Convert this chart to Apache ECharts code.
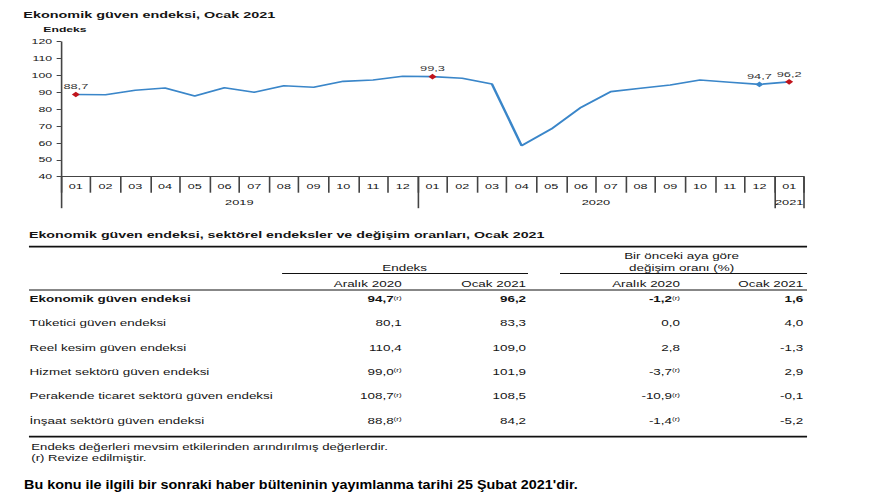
<!DOCTYPE html>
<html>
<head>
<meta charset="utf-8">
<script src="https://cdn.jsdelivr.net/npm/echarts@6/dist/echarts.min.js"></script>
<style>
  html, body { margin: 0; padding: 0; background: #ffffff; }
  #wrap { width: 880px; height: 495px; overflow: hidden; position: relative; }
  #chart { width: 550px; height: 495px; transform: scaleX(1.6); transform-origin: 0 0; }
</style>
</head>
<body>
<div id="wrap"><div id="chart"></div></div>
<script>
// ---------- DATA ----------
const chartTitle = 'Ekonomik güven endeksi, Ocak 2021';
const yAxisName = 'Endeks';
const months = ['01','02','03','04','05','06','07','08','09','10','11','12',
                '01','02','03','04','05','06','07','08','09','10','11','12',
                '01'];
const years = ['2019', '2020', '2021'];
const yearMonthCounts = [12, 12, 1];
const economicConfidence = [88.7, 88.6, 91.2, 92.6, 87.8, 92.7, 90.0, 93.9, 93.0, 96.5, 97.3, 99.5,
                            99.3, 98.3, 94.9, 58.4, 68.3, 81.1, 90.4, 92.4, 94.3, 97.3, 96.0, 94.7,
                            96.2];
const redMarkedIndices = [0, 12, 24];
const blueMarkedIndices = [23];
const yMin = 40, yMax = 120, yStep = 10;

const tableTitle = 'Ekonomik güven endeksi, sektörel endeksler ve değişim oranları, Ocak 2021';
const groupHeaders = ['Endeks', 'Bir önceki aya göre\ndeğişim oranı (%)'];
const columnHeaders = ['Aralık 2020', 'Ocak 2021', 'Aralık 2020', 'Ocak 2021'];
const rowNames = ['Ekonomik güven endeksi', 'Tüketici güven endeksi', 'Reel kesim güven endeksi',
                  'Hizmet sektörü güven endeksi', 'Perakende ticaret sektörü güven endeksi',
                  'İnşaat sektörü güven endeksi'];
const endeksAralik2020 = ['94,7', '80,1', '110,4', '99,0', '108,7', '88,8'];
const endeksOcak2021 = ['96,2', '83,3', '109,0', '101,9', '108,5', '84,2'];
const degisimAralik2020 = ['-1,2', '0,0', '2,8', '-3,7', '-10,9', '-1,4'];
const degisimOcak2021 = ['1,6', '4,0', '-1,3', '2,9', '-0,1', '-5,2'];
const revisedEndeksAralik = [true, false, false, true, true, true];
const revisedDegisimAralik = [true, false, false, true, true, true];
const footnotes = ['Endeks değerleri mevsim etkilerinden arındırılmış değerlerdir.', '(r) Revize edilmiştir.'];
const revisedMark = '(r)';
const bottomNote = "Bu konu ile ilgili bir sonraki haber bülteninin yayımlanma tarihi 25 Şubat 2021'dir.";

// ---------- STYLE ----------
const FONT = '"Liberation Sans", Arial, Helvetica, sans-serif';
const TXT = '#141414';
const AXIS = '#444444';
const LINE_BLUE = '#3a86c9';
const MARK_RED = '#c0141c';

const fmt = v => v.toFixed(1).replace('.', ',');

// year label centers and boundaries (in category index units)
const yearCenters = [], yearBounds = [];
let start = 0;
yearMonthCounts.forEach((c) => {
  yearBounds.push(start - 0.5);
  yearCenters.push(start + (c - 1) / 2);
  start += c;
});
yearBounds.push(start - 0.5);

const seriesData = economicConfidence.map((v, i) => {
  const isRed = redMarkedIndices.indexOf(i) >= 0;
  const isBlue = blueMarkedIndices.indexOf(i) >= 0;
  if (!isRed && !isBlue) return { value: v, symbol: 'none' };
  return {
    value: v,
    symbol: 'diamond',
    itemStyle: { color: isRed ? MARK_RED : LINE_BLUE },
    label: { show: true }
  };
});

// ---------- TABLE (graphic) ----------
const graphic = [];
function text(x, y, str, size, weight, align, extra) {
  const el = {
    type: 'text', x: x, y: y, silent: true,
    style: Object.assign({
      text: str, fill: TXT, fontFamily: FONT, fontSize: size, fontWeight: weight || 'normal',
      align: align || 'left', verticalAlign: 'middle'
    }, extra || {})
  };
  graphic.push(el);
  return el;
}
function hline(x1, x2, y, w) {
  graphic.push({ type: 'line', silent: true, shape: { x1: x1, y1: y, x2: x2, y2: y },
    style: { stroke: '#111', lineWidth: w } });
}
function valueText(x, y, str, revised, bold) {
  const size = 8.4;
  if (!revised) { text(x, y, str, size, bold ? 'bold' : 'normal', 'right'); return; }
  text(x, y, '{v|' + str + '}{s|' + revisedMark + '}', size, bold ? 'bold' : 'normal', 'right', {
    rich: {
      v: { fontFamily: FONT, fontSize: size, fontWeight: bold ? 'bold' : 'normal', fill: TXT, color: TXT },
      s: { fontFamily: FONT, fontSize: 5, fill: TXT, color: TXT, verticalAlign: 'top', padding: [0, 0, 3, 0] }
    }
  });
}

const TL = 18.1, TR = 504.4;
const colRight = [251, 328.8, 425, 502];
text(TL, 235, tableTitle, 8.9, 'bold', 'left');
hline(TL, TR, 246.7, 1.8);
text(252.9, 268.2, groupHeaders[0], 8.4, 'normal', 'center');
text(426, 262, groupHeaders[1], 8.4, 'normal', 'center', { lineHeight: 12.5 });
hline(176.3, 330, 273.4, 1);
hline(350, TR, 273.4, 1);
columnHeaders.forEach((h, i) => text(colRight[i], 284, h, 8.4, 'normal', 'right'));
hline(TL, TR, 290, 1.2);
rowNames.forEach((name, r) => {
  const y = 299.2 + r * 24.3;
  const bold = r === 0;
  text(TL + 0.4, y, name, 8.4, bold ? 'bold' : 'normal', 'left');
  valueText(colRight[0], y, endeksAralik2020[r], revisedEndeksAralik[r], bold);
  valueText(colRight[1], y, endeksOcak2021[r], false, bold);
  valueText(colRight[2], y, degisimAralik2020[r], revisedDegisimAralik[r], bold);
  valueText(colRight[3], y, degisimOcak2021[r], false, bold);
});
hline(TL, TR, 436.7, 1.8);
text(TL + 1.5, 446.8, footnotes[0], 8.2, 'normal', 'left');
text(TL + 1.5, 457.6, footnotes[1], 8.2, 'normal', 'left');
// bottom note is less stretched in the original than the rest of the page
graphic.push({
  type: 'text', x: 15, y: 485.3, scaleX: 1.18 / 1.6, silent: true,
  style: { text: bottomNote, fill: '#000', fontFamily: FONT, fontSize: 12.2, fontWeight: 'bold',
           align: 'left', verticalAlign: 'middle' }
});

// ---------- CHART ----------
const chart = echarts.init(document.getElementById('chart'), null, { renderer: 'svg', width: 550, height: 495 });
const option = {
  animation: false,
  textStyle: { fontFamily: FONT },
  title: {
    text: chartTitle, left: 14.6, top: 10.6, padding: 0,
    textStyle: { fontFamily: FONT, fontSize: 9, fontWeight: 'bold', color: TXT }
  },
  grid: { left: 38.1, right: 47.5, top: 41.7, bottom: 318.3, containLabel: false },
  xAxis: [
    {
      type: 'category', data: months, boundaryGap: true, position: 'bottom',
      axisLine: { show: true, onZero: false, lineStyle: { color: AXIS, width: 1 } },
      axisTick: { show: true, interval: 0, length: 16, lineStyle: { color: AXIS, width: 1 } },
      axisLabel: { interval: 0, fontSize: 7.9, color: TXT, margin: 5.5, fontFamily: FONT },
      splitLine: { show: false }
    },
    {
      type: 'value', min: -0.5, max: 24.5, position: 'bottom',
      axisLine: { show: false, onZero: false },
      axisTick: { show: true, customValues: yearBounds, length: 31.5, lineStyle: { color: AXIS, width: 1 } },
      axisLabel: {
        customValues: yearCenters, fontSize: 8, color: TXT, margin: 21, fontFamily: FONT,
        formatter: (v) => { const k = yearCenters.indexOf(v); return k >= 0 ? years[k] : ''; }
      },
      splitLine: { show: false }
    }
  ],
  yAxis: {
    type: 'value', min: yMin, max: yMax, interval: yStep,
    name: yAxisName, nameLocation: 'end', nameGap: 8.5,
    nameTextStyle: { fontFamily: FONT, fontSize: 7.6, color: TXT, fontWeight: 'bold', padding: [0, 0, 0, 5] },
    axisLine: { show: true, onZero: false, lineStyle: { color: AXIS, width: 1 } },
    axisTick: { show: true, length: 2.7, lineStyle: { color: AXIS, width: 1 } },
    axisLabel: { fontSize: 7.7, color: TXT, margin: 5.5, fontFamily: FONT },
    splitLine: { show: false }
  },
  series: [{
    type: 'line', xAxisIndex: 0, yAxisIndex: 0,
    data: seriesData,
    symbol: 'diamond', symbolSize: [5, 5.6], showSymbol: true, showAllSymbol: true,
    lineStyle: { color: LINE_BLUE, width: 1.6 },
    itemStyle: { color: LINE_BLUE },
    label: { show: false, position: 'top', distance: 1.5, fontSize: 8, color: '#333', fontFamily: FONT,
             formatter: (p) => fmt(p.value) },
    emphasis: { disabled: true }
  }],
  graphic: graphic
};
chart.setOption(option);
</script>
</body>
</html>
